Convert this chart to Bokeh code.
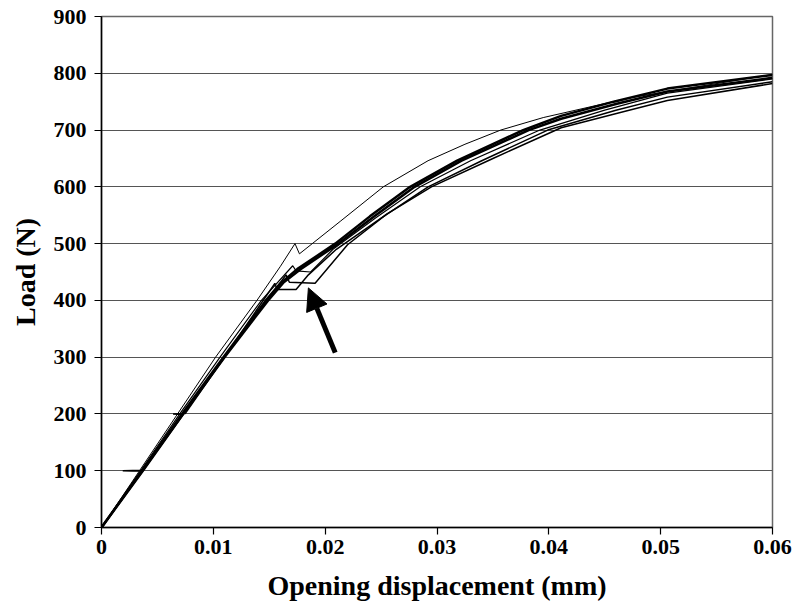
from bokeh.plotting import figure
from bokeh.models import FixedTicker, Arrow, NormalHead
from bokeh.embed import file_html
from bokeh.resources import INLINE

# ---- data ----
x_ticks = [0, 0.01, 0.02, 0.03, 0.04, 0.05, 0.06]
x_tick_labels = ["0", "0.01", "0.02", "0.03", "0.04", "0.05", "0.06"]
y_ticks = [0, 100, 200, 300, 400, 500, 600, 700, 800, 900]

# upper thin specimen (peak ~500 N)
a_x = [0, 0.0034, 0.0068, 0.0102, 0.0139, 0.0160, 0.0173, 0.0177, 0.0214, 0.0252, 0.0292, 0.0325, 0.0357, 0.0395, 0.0473, 0.0600]
a_y = [0, 100, 200, 300, 400, 460, 500, 482, 540, 600, 646, 675, 700, 722, 757, 798]

# thick band specimens
b1_x = [0, 0.0036, 0.0072, 0.0109, 0.0147, 0.0160, 0.0175, 0.0209, 0.0240, 0.0276, 0.0318, 0.0377, 0.0411, 0.0458, 0.0506, 0.0600]
b1_y = [0, 100, 200, 300, 400, 430, 455, 500, 548, 600, 646, 700, 725, 750, 773, 797]
b2_x = [0, 0.0037, 0.0073, 0.0110, 0.0149, 0.0163, 0.0178, 0.0212, 0.0244, 0.0280, 0.0322, 0.0382, 0.0411, 0.0460, 0.0506, 0.0600]
b2_y = [0, 100, 200, 300, 400, 432, 455, 500, 548, 600, 646, 700, 720, 746, 768, 792]

# specimen with drop at ~461 N
c_x = [0, 0.0035, 0.0070, 0.0106, 0.0143, 0.0171, 0.0174, 0.0187, 0.0207, 0.0245, 0.0285, 0.0330, 0.0392, 0.0450, 0.0506, 0.0600]
c_y = [0, 100, 200, 300, 400, 461, 452, 450, 490, 545, 600, 646, 700, 735, 765, 790]

# specimen with slips at 100 N and 200 N and plateau at ~419 N
d_x = [0, 0.0036, 0.0019, 0.0037, 0.0073, 0.0064, 0.0075, 0.0110, 0.0155, 0.0157, 0.0174, 0.0185, 0.0210, 0.0250, 0.0292, 0.0340, 0.0399, 0.0460, 0.0506, 0.0600]
d_y = [0, 99, 100, 101, 199, 200, 201, 300, 430, 419, 419, 445, 490, 545, 600, 646, 700, 735, 758, 785]

# lowest specimen (plateau at ~430 N)
e_x = [0, 0.0037, 0.0073, 0.0110, 0.0148, 0.0165, 0.0168, 0.0191, 0.0220, 0.0255, 0.0295, 0.0350, 0.0411, 0.0470, 0.0506, 0.0600]
e_y = [0, 100, 200, 300, 400, 445, 432, 430, 498, 552, 600, 650, 704, 734, 752, 782]

arrow_start = (0.0209, 308)
arrow_end = (0.0185, 422)

FONT = "Liberation Serif"

p = figure(width=795, height=606, output_backend="svg", toolbar_location=None,
           x_range=(0, 0.06), y_range=(0, 900),
           min_border_left=101, min_border_right=23, min_border_top=16, min_border_bottom=79)

p.background_fill_color = "white"
p.border_fill_color = "white"
p.outline_line_color = "#666666"
p.outline_line_width = 1.5

for xs, ys, w in [(a_x, a_y, 1), (b1_x, b1_y, 2.5), (b2_x, b2_y, 2.5),
                  (c_x, c_y, 1.2), (d_x, d_y, 1.5), (e_x, e_y, 1.5)]:
    p.line(xs, ys, line_color="black", line_width=w)

p.add_layout(Arrow(end=NormalHead(size=22, fill_color="black", line_color="black"),
                   x_start=arrow_start[0], y_start=arrow_start[1],
                   x_end=arrow_end[0], y_end=arrow_end[1],
                   line_width=5, line_color="black"))

# axes
p.xaxis.ticker = FixedTicker(ticks=x_ticks)
p.xaxis.major_label_overrides = {t: l for t, l in zip(x_ticks, x_tick_labels)}
p.yaxis.ticker = FixedTicker(ticks=y_ticks)
p.xaxis.minor_tick_line_color = None
p.yaxis.minor_tick_line_color = None
for ax in (p.xaxis[0], p.yaxis[0]):
    ax.axis_line_color = "black"
    ax.axis_line_width = 1.5
    ax.major_tick_line_color = "black"
    ax.major_tick_line_width = 1.2
    ax.major_tick_out = 7
    ax.major_tick_in = 0
    ax.major_label_text_font = FONT
    ax.major_label_text_font_style = "bold"
    ax.major_label_text_font_size = "22px"
    ax.major_label_text_color = "black"
    ax.axis_label_text_font = FONT
    ax.axis_label_text_font_style = "bold"
    ax.axis_label_text_font_size = "28px"
    ax.axis_label_text_color = "black"

p.xaxis.axis_label = "Opening displacement (mm)"
p.yaxis.axis_label = "Load (N)"
p.xaxis.major_label_standoff = 5
p.yaxis.major_label_standoff = 8
p.xaxis.axis_label_standoff = 13
p.yaxis.axis_label_standoff = 10

p.xgrid.grid_line_color = None
p.ygrid.ticker = FixedTicker(ticks=y_ticks)
p.ygrid.grid_line_color = "#555555"
p.ygrid.grid_line_width = 1.2

open("out.html", "w").write(file_html(p, INLINE))
